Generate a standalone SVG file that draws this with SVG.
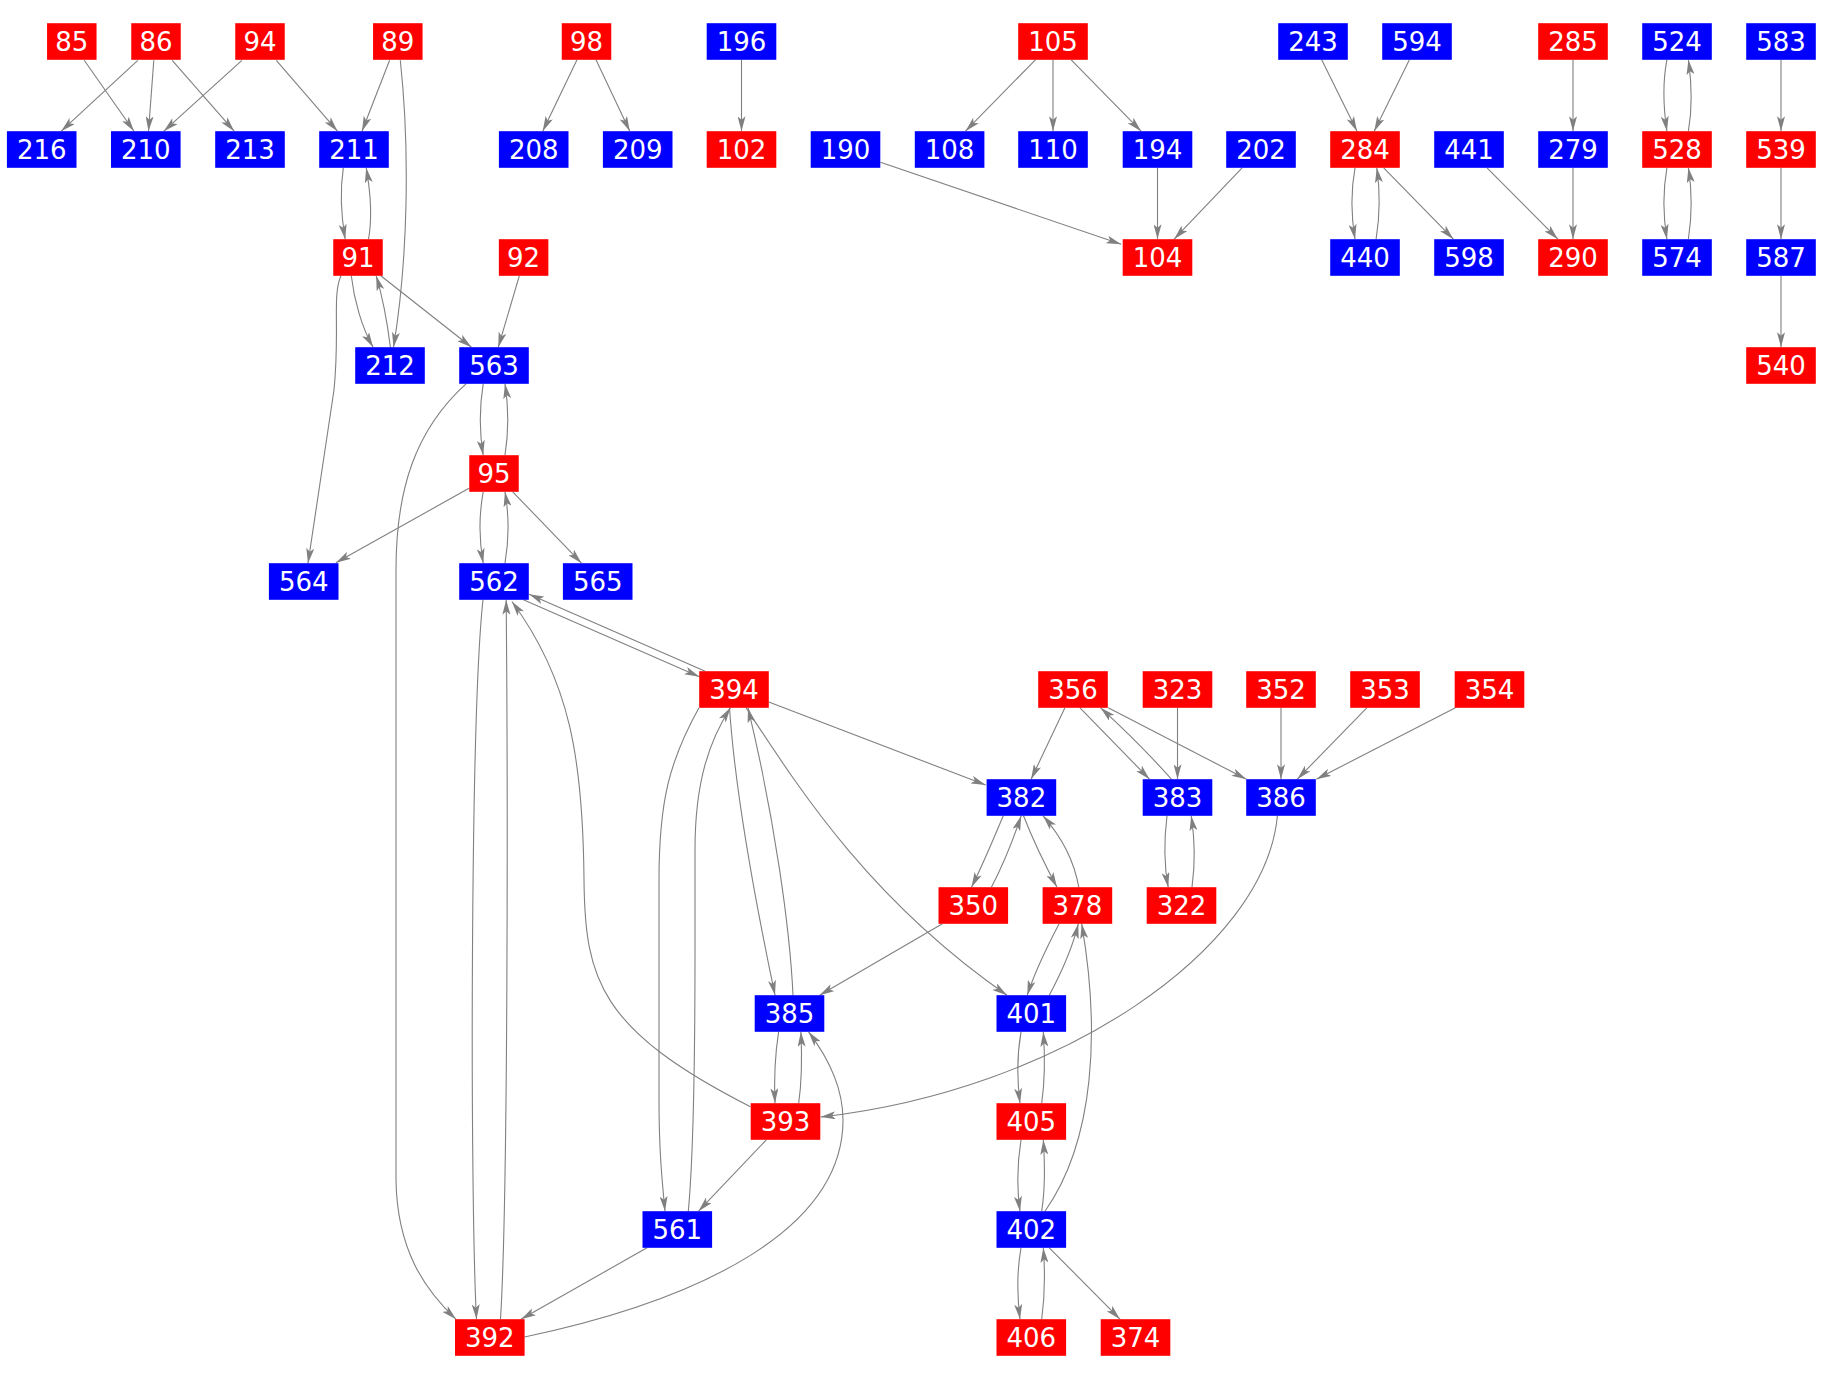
<svg xmlns="http://www.w3.org/2000/svg" width="1823" height="1379" viewBox="0 0 1823 1379">
<style>
.r rect{fill:#ff0000}
.b rect{fill:#0000ff}
text{font-family:"DejaVu Sans","Liberation Sans",sans-serif;font-size:26px;fill:#ffffff;text-anchor:middle}
.e path{fill:none;stroke:#808080;stroke-width:1.1;marker-end:url(#a)}
</style>
<defs>
<marker id="a" markerUnits="userSpaceOnUse" markerWidth="15" markerHeight="8" viewBox="0 0 15 8" refX="15" refY="4" orient="auto"><path d="M0,0 L15,4 L0,8 L3.5,4 Z" fill="#808080"/></marker>
</defs>
<rect x="0" y="0" width="1823" height="1379" fill="#ffffff"/>
<g id="edges" class="e">
<path d="M84.2,60.3 L134,131.2"/>
<path d="M137.8,60.3 L61.2,131.2"/>
<path d="M153.8,60.3 L148.5,131.2"/>
<path d="M172.2,60.3 L234.2,131.2"/>
<path d="M241.9,60.3 L163.8,131.2"/>
<path d="M276.3,60.3 L337.5,131.2"/>
<path d="M389.6,60.3 L362,131.2"/>
<path d="M400.3,60.3 C410,150 408,260 393.5,347.2"/>
<path d="M343.3,167.8 C340,190 341,215 345.2,239.2"/>
<path d="M368.5,239.2 C372,220 371,195 366.2,167.8"/>
<path d="M351.3,275.8 C354,300 362,328 373.1,347.2"/>
<path d="M390.4,347.2 C387,320 382,295 376.2,275.8"/>
<path d="M380.8,275.8 L471.5,347.2"/>
<path d="M341,275.8 C332,295 340,330 334,390 L308,563.2"/>
<path d="M519.3,275.8 L498.3,347.2"/>
<path d="M577,59.8 L542.7,131.2"/>
<path d="M596,59.8 L629.8,131.2"/>
<path d="M741.5,59.8 L741.5,131.2"/>
<path d="M1035.4,59.8 L965.5,131.2"/>
<path d="M1053,59.8 L1053,131.2"/>
<path d="M1071.2,59.8 L1141.1,131.2"/>
<path d="M880.5,162.3 L1121.2,244.3"/>
<path d="M1157.5,167.8 L1157.5,239.2"/>
<path d="M1242.1,167.8 L1174.1,239.2"/>
<path d="M1321.7,59.8 L1357,131.2"/>
<path d="M1409.4,59.8 L1374.2,131.2"/>
<path d="M1355,167.8 C1351,190 1351,215 1355,239.2"/>
<path d="M1376.1,239.2 C1380,215 1380,190 1376.8,167.8"/>
<path d="M1383.7,167.8 L1453.4,239.2"/>
<path d="M1487,167.8 L1557.9,239.2"/>
<path d="M1573,59.8 L1573,131.2"/>
<path d="M1573,167.8 L1573,239.2"/>
<path d="M1666.9,59.8 C1663,80 1663,105 1666.9,131.2"/>
<path d="M1688.4,131.2 C1692,110 1692,85 1688.4,59.8"/>
<path d="M1666.9,167.8 C1663,190 1663,215 1666.9,239.2"/>
<path d="M1688.4,239.2 C1692,215 1692,190 1688.4,167.8"/>
<path d="M1781,59.8 L1781,131.2"/>
<path d="M1781,167.8 L1781,239.2"/>
<path d="M1781,275.8 L1781,347.2"/>
<path d="M483.2,383.8 C479,410 479,430 483.2,455.2"/>
<path d="M505,455.2 C509,430 509,410 505,383.8"/>
<path d="M466,383.8 C415,430 396,490 396,570 L396,1180 C397,1250 425,1290 456,1319.2"/>
<path d="M469,488.3 L335.9,562.7"/>
<path d="M483.2,491.8 C479,515 479,540 483.2,563.2"/>
<path d="M505,563.2 C509,540 509,515 505,491.8"/>
<path d="M512.7,491.8 L581.5,563.2"/>
<path d="M523.4,599.8 L699.4,676.7"/>
<path d="M705.2,671.2 L529.1,594.3"/>
<path d="M483,599.8 C470,720 470,1200 476.5,1319.2"/>
<path d="M500.5,1319.2 C508,1200 508,800 506.2,599.8"/>
<path d="M750.4,1106.7 C600,1030 585,980 584,880 C583,760 570,680 511.9,601.5"/>
<path d="M768.8,702 L985.7,785"/>
<path d="M729.5,707.8 C735,790 755,900 775,995.2"/>
<path d="M793,995.2 C790,930 775,820 748,707.8"/>
<path d="M699,707.8 C670,760 659,800 659,880 L659,1100 C659,1150 662,1180 665,1211.2"/>
<path d="M688.3,1211.2 C694,1150 695,1050 695,950 L695,850 C695,780 710,740 730.4,707.8"/>
<path d="M746,707.8 C800,790 870,900 1007,995.2"/>
<path d="M1064.9,707.8 L1031.1,779.2"/>
<path d="M1080,707.8 L1149.5,779.2"/>
<path d="M1171.4,779.2 C1150,755 1125,730 1100.6,707.8"/>
<path d="M1108.2,707.8 L1246.4,779.2"/>
<path d="M1177.5,707.8 L1177.5,779.2"/>
<path d="M1281,707.8 L1281,779.2"/>
<path d="M1366.8,707.8 L1297.3,779.2"/>
<path d="M1455.4,707.8 L1316.4,779.2"/>
<path d="M1003.3,815.8 C995,835 985,860 971.5,887.2"/>
<path d="M991.4,887.2 C1003,865 1013,840 1021.2,815.8"/>
<path d="M1023.5,815.8 C1033,840 1045,865 1057,887.2"/>
<path d="M1078.8,887.2 C1074,860 1060,835 1043,815.8"/>
<path d="M1167,815.8 C1164,840 1164,865 1168.2,887.2"/>
<path d="M1192,887.2 C1195,865 1195,840 1191.2,815.8"/>
<path d="M1277.4,815.8 C1265,950 1060,1090 820.5,1117"/>
<path d="M942.4,923.8 L819.6,995.2"/>
<path d="M1059,923.8 C1048,945 1035,970 1027.3,995.2"/>
<path d="M1049.3,995.2 C1060,975 1072,950 1078.3,923.8"/>
<path d="M1045,1211.2 C1095,1140 1100,1030 1081.7,923.8"/>
<path d="M1021,1031.8 C1017,1055 1017,1080 1020,1103.2"/>
<path d="M1041.7,1103.2 C1045,1080 1045,1055 1043.3,1031.8"/>
<path d="M1021,1139.8 C1017,1165 1017,1190 1020,1211.2"/>
<path d="M1041.7,1211.2 C1045,1190 1045,1165 1043.3,1139.8"/>
<path d="M1021,1247.8 C1017,1270 1017,1295 1020,1319.2"/>
<path d="M1041.7,1319.2 C1045,1295 1045,1270 1043.3,1247.8"/>
<path d="M1049.3,1247.8 L1120,1319.2"/>
<path d="M778.6,1031.8 C775,1055 774,1080 775,1103.2"/>
<path d="M798.7,1103.2 C802,1080 802,1055 800.9,1031.8"/>
<path d="M524.5,1337 C700,1300 843,1230 843,1120 C843,1090 830,1060 808.5,1031.8"/>
<path d="M766.3,1139.8 L698.5,1211.2"/>
<path d="M647,1247.8 L521,1319.2"/>
</g>
<g id="n85" class="r"><rect x="47.05" y="23.2" width="49.5" height="36.6"/><text x="71.8" y="50.8">85</text></g>
<g id="n86" class="r"><rect x="131.25" y="23.2" width="49.5" height="36.6"/><text x="156" y="50.8">86</text></g>
<g id="n94" class="r"><rect x="235.25" y="23.2" width="49.5" height="36.6"/><text x="260" y="50.8">94</text></g>
<g id="n89" class="r"><rect x="373.05" y="23.2" width="49.5" height="36.6"/><text x="397.8" y="50.8">89</text></g>
<g id="n98" class="r"><rect x="561.75" y="23.2" width="49.5" height="36.6"/><text x="586.5" y="50.8">98</text></g>
<g id="n196" class="b"><rect x="706.7" y="23.2" width="69.6" height="36.6"/><text x="741.5" y="50.8">196</text></g>
<g id="n105" class="r"><rect x="1018.2" y="23.2" width="69.6" height="36.6"/><text x="1053" y="50.8">105</text></g>
<g id="n243" class="b"><rect x="1278.2" y="23.2" width="69.6" height="36.6"/><text x="1313" y="50.8">243</text></g>
<g id="n594" class="b"><rect x="1382.2" y="23.2" width="69.6" height="36.6"/><text x="1417" y="50.8">594</text></g>
<g id="n285" class="r"><rect x="1538.2" y="23.2" width="69.6" height="36.6"/><text x="1573" y="50.8">285</text></g>
<g id="n524" class="b"><rect x="1642.2" y="23.2" width="69.6" height="36.6"/><text x="1677" y="50.8">524</text></g>
<g id="n583" class="b"><rect x="1746.2" y="23.2" width="69.6" height="36.6"/><text x="1781" y="50.8">583</text></g>
<g id="n216" class="b"><rect x="6.9" y="131.2" width="69.6" height="36.6"/><text x="41.7" y="158.8">216</text></g>
<g id="n210" class="b"><rect x="111" y="131.2" width="69.6" height="36.6"/><text x="145.8" y="158.8">210</text></g>
<g id="n213" class="b"><rect x="215.2" y="131.2" width="69.6" height="36.6"/><text x="250" y="158.8">213</text></g>
<g id="n211" class="b"><rect x="319.2" y="131.2" width="69.6" height="36.6"/><text x="354" y="158.8">211</text></g>
<g id="n208" class="b"><rect x="498.9" y="131.2" width="69.6" height="36.6"/><text x="533.7" y="158.8">208</text></g>
<g id="n209" class="b"><rect x="602.9" y="131.2" width="69.6" height="36.6"/><text x="637.7" y="158.8">209</text></g>
<g id="n102" class="r"><rect x="706.7" y="131.2" width="69.6" height="36.6"/><text x="741.5" y="158.8">102</text></g>
<g id="n190" class="b"><rect x="810.7" y="131.2" width="69.6" height="36.6"/><text x="845.5" y="158.8">190</text></g>
<g id="n108" class="b"><rect x="914.8" y="131.2" width="69.6" height="36.6"/><text x="949.6" y="158.8">108</text></g>
<g id="n110" class="b"><rect x="1018.2" y="131.2" width="69.6" height="36.6"/><text x="1053" y="158.8">110</text></g>
<g id="n194" class="b"><rect x="1122.7" y="131.2" width="69.6" height="36.6"/><text x="1157.5" y="158.8">194</text></g>
<g id="n202" class="b"><rect x="1226.2" y="131.2" width="69.6" height="36.6"/><text x="1261" y="158.8">202</text></g>
<g id="n284" class="r"><rect x="1330.2" y="131.2" width="69.6" height="36.6"/><text x="1365" y="158.8">284</text></g>
<g id="n441" class="b"><rect x="1434.2" y="131.2" width="69.6" height="36.6"/><text x="1469" y="158.8">441</text></g>
<g id="n279" class="b"><rect x="1538.2" y="131.2" width="69.6" height="36.6"/><text x="1573" y="158.8">279</text></g>
<g id="n528" class="r"><rect x="1642.2" y="131.2" width="69.6" height="36.6"/><text x="1677" y="158.8">528</text></g>
<g id="n539" class="r"><rect x="1746.2" y="131.2" width="69.6" height="36.6"/><text x="1781" y="158.8">539</text></g>
<g id="n91" class="r"><rect x="333.25" y="239.2" width="49.5" height="36.6"/><text x="358" y="266.8">91</text></g>
<g id="n92" class="r"><rect x="498.85" y="239.2" width="49.5" height="36.6"/><text x="523.6" y="266.8">92</text></g>
<g id="n104" class="r"><rect x="1122.7" y="239.2" width="69.6" height="36.6"/><text x="1157.5" y="266.8">104</text></g>
<g id="n440" class="b"><rect x="1330.2" y="239.2" width="69.6" height="36.6"/><text x="1365" y="266.8">440</text></g>
<g id="n598" class="b"><rect x="1434.2" y="239.2" width="69.6" height="36.6"/><text x="1469" y="266.8">598</text></g>
<g id="n290" class="r"><rect x="1538.2" y="239.2" width="69.6" height="36.6"/><text x="1573" y="266.8">290</text></g>
<g id="n574" class="b"><rect x="1642.2" y="239.2" width="69.6" height="36.6"/><text x="1677" y="266.8">574</text></g>
<g id="n587" class="b"><rect x="1746.2" y="239.2" width="69.6" height="36.6"/><text x="1781" y="266.8">587</text></g>
<g id="n212" class="b"><rect x="355.2" y="347.2" width="69.6" height="36.6"/><text x="390" y="374.8">212</text></g>
<g id="n563" class="b"><rect x="459.2" y="347.2" width="69.6" height="36.6"/><text x="494" y="374.8">563</text></g>
<g id="n540" class="r"><rect x="1746.2" y="347.2" width="69.6" height="36.6"/><text x="1781" y="374.8">540</text></g>
<g id="n95" class="r"><rect x="469.25" y="455.2" width="49.5" height="36.6"/><text x="494" y="482.8">95</text></g>
<g id="n564" class="b"><rect x="268.9" y="563.2" width="69.6" height="36.6"/><text x="303.7" y="590.8">564</text></g>
<g id="n562" class="b"><rect x="459.2" y="563.2" width="69.6" height="36.6"/><text x="494" y="590.8">562</text></g>
<g id="n565" class="b"><rect x="562.9" y="563.2" width="69.6" height="36.6"/><text x="597.7" y="590.8">565</text></g>
<g id="n394" class="r"><rect x="699.2" y="671.2" width="69.6" height="36.6"/><text x="734" y="698.8">394</text></g>
<g id="n356" class="r"><rect x="1038.2" y="671.2" width="69.6" height="36.6"/><text x="1073" y="698.8">356</text></g>
<g id="n323" class="r"><rect x="1142.7" y="671.2" width="69.6" height="36.6"/><text x="1177.5" y="698.8">323</text></g>
<g id="n352" class="r"><rect x="1246.2" y="671.2" width="69.6" height="36.6"/><text x="1281" y="698.8">352</text></g>
<g id="n353" class="r"><rect x="1350.2" y="671.2" width="69.6" height="36.6"/><text x="1385" y="698.8">353</text></g>
<g id="n354" class="r"><rect x="1454.7" y="671.2" width="69.6" height="36.6"/><text x="1489.5" y="698.8">354</text></g>
<g id="n382" class="b"><rect x="986.6" y="779.2" width="69.6" height="36.6"/><text x="1021.4" y="806.8">382</text></g>
<g id="n383" class="b"><rect x="1142.7" y="779.2" width="69.6" height="36.6"/><text x="1177.5" y="806.8">383</text></g>
<g id="n386" class="b"><rect x="1246.2" y="779.2" width="69.6" height="36.6"/><text x="1281" y="806.8">386</text></g>
<g id="n350" class="r"><rect x="938.5" y="887.2" width="69.6" height="36.6"/><text x="973.3" y="914.8">350</text></g>
<g id="n378" class="r"><rect x="1042.6" y="887.2" width="69.6" height="36.6"/><text x="1077.4" y="914.8">378</text></g>
<g id="n322" class="r"><rect x="1146.7" y="887.2" width="69.6" height="36.6"/><text x="1181.5" y="914.8">322</text></g>
<g id="n385" class="b"><rect x="754.7" y="995.2" width="69.6" height="36.6"/><text x="789.5" y="1022.8">385</text></g>
<g id="n401" class="b"><rect x="996.5" y="995.2" width="69.6" height="36.6"/><text x="1031.3" y="1022.8">401</text></g>
<g id="n393" class="r"><rect x="750.7" y="1103.2" width="69.6" height="36.6"/><text x="785.5" y="1130.8">393</text></g>
<g id="n405" class="r"><rect x="996.5" y="1103.2" width="69.6" height="36.6"/><text x="1031.3" y="1130.8">405</text></g>
<g id="n561" class="b"><rect x="642.5" y="1211.2" width="69.6" height="36.6"/><text x="677.3" y="1238.8">561</text></g>
<g id="n402" class="b"><rect x="996.5" y="1211.2" width="69.6" height="36.6"/><text x="1031.3" y="1238.8">402</text></g>
<g id="n392" class="r"><rect x="455" y="1319.2" width="69.6" height="36.6"/><text x="489.8" y="1346.8">392</text></g>
<g id="n406" class="r"><rect x="996.5" y="1319.2" width="69.6" height="36.6"/><text x="1031.3" y="1346.8">406</text></g>
<g id="n374" class="r"><rect x="1100.7" y="1319.2" width="69.6" height="36.6"/><text x="1135.5" y="1346.8">374</text></g>
</svg>
